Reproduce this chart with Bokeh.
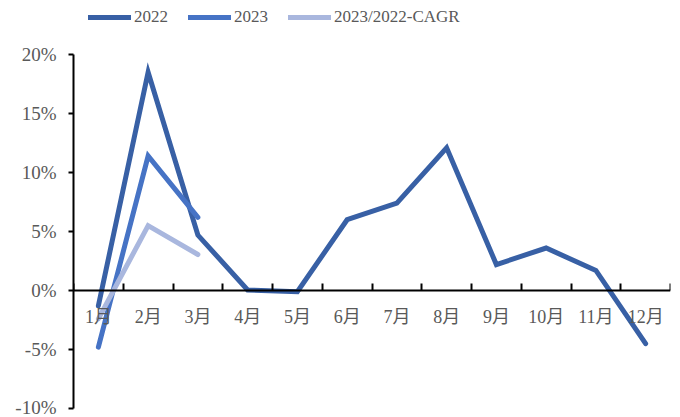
from bokeh.plotting import figure
from bokeh.models import Range1d, FixedTicker, PrintfTickFormatter, Legend, LegendItem
from bokeh.embed import file_html
from bokeh.resources import INLINE

months = ["1月", "2月", "3月", "4月", "5月", "6月", "7月", "8月", "9月", "10月", "11月", "12月"]
v2022 = [-1.3, 18.5, 4.7, 0.05, -0.1, 6.0, 7.4, 12.1, 2.2, 3.6, 1.7, -4.5]
v2023 = [-4.8, 11.4, 6.2]
vcagr = [-2.4, 5.5, 3.05]
y_ticks = [-10, -5, 0, 5, 10, 15, 20]

series_names = ["2022", "2023", "2023/2022-CAGR"]
colors = ["#3860A5", "#4673C5", "#A9B7DE"]

FONT = "'Liberation Serif', 'Noto Sans CJK SC'"
GREY = "#595959"

xs_all = [i + 0.5 for i in range(len(months))]

# frame reaches the top of the canvas; extra headroom above 20% holds the legend
p = figure(width=680, height=417, output_backend="svg", toolbar_location=None,
           x_range=Range1d(0, len(months)), y_range=Range1d(-10, 24.58),
           min_border_left=73, min_border_right=10, min_border_top=0, min_border_bottom=9)
p.outline_line_color = None
p.xgrid.grid_line_color = None
p.ygrid.grid_line_color = None
p.background_fill_color = "white"
p.border_fill_color = "white"

r1 = p.line(xs_all, v2022, line_color=colors[0], line_width=5, line_join="miter", line_cap="round")
r2 = p.line(xs_all[:len(v2023)], v2023, line_color=colors[1], line_width=5, line_join="miter", line_cap="round")
r3 = p.line(xs_all[:len(vcagr)], vcagr, line_color=colors[2], line_width=5, line_join="miter", line_cap="round")

# y axis
ya = p.yaxis[0]
ya.bounds = (y_ticks[0], y_ticks[-1])
ya.ticker = FixedTicker(ticks=y_ticks, minor_ticks=[])
ya.formatter = PrintfTickFormatter(format="%d%%")
ya.axis_line_color = "black"
ya.axis_line_width = 2
ya.major_tick_line_color = "black"
ya.major_tick_line_width = 2
ya.major_tick_out = 5
ya.major_tick_in = 0
ya.minor_tick_line_color = None
ya.major_label_text_font = FONT
ya.major_label_text_font_size = "19px"
ya.major_label_text_color = GREY
ya.major_label_standoff = 12

# x axis at zero
xa = p.xaxis[0]
xa.fixed_location = 0
xa.ticker = FixedTicker(ticks=xs_all, minor_ticks=list(range(len(months) + 1)))
xa.major_label_overrides = {x: m for x, m in zip(xs_all, months)}
xa.axis_line_color = "black"
xa.axis_line_width = 2
xa.major_tick_line_color = None
xa.minor_tick_line_color = "black"
xa.minor_tick_line_width = 2
xa.minor_tick_in = 7
xa.minor_tick_out = 0
xa.major_label_text_font = FONT
xa.major_label_text_font_size = "18px"
xa.major_label_text_color = GREY
xa.major_label_standoff = 10

legend = Legend(items=[LegendItem(label=series_names[0], renderers=[r1]),
                       LegendItem(label=series_names[1], renderers=[r2]),
                       LegendItem(label=series_names[2], renderers=[r3])],
                location=(15, 381), orientation="horizontal",
                label_text_font=FONT, label_text_font_size="17px", label_text_color=GREY,
                glyph_width=43, glyph_height=20, label_standoff=3, spacing=20,
                padding=0, margin=0, border_line_color=None, background_fill_alpha=0)
p.add_layout(legend)

open("out.html", "w").write(file_html(p, INLINE))
